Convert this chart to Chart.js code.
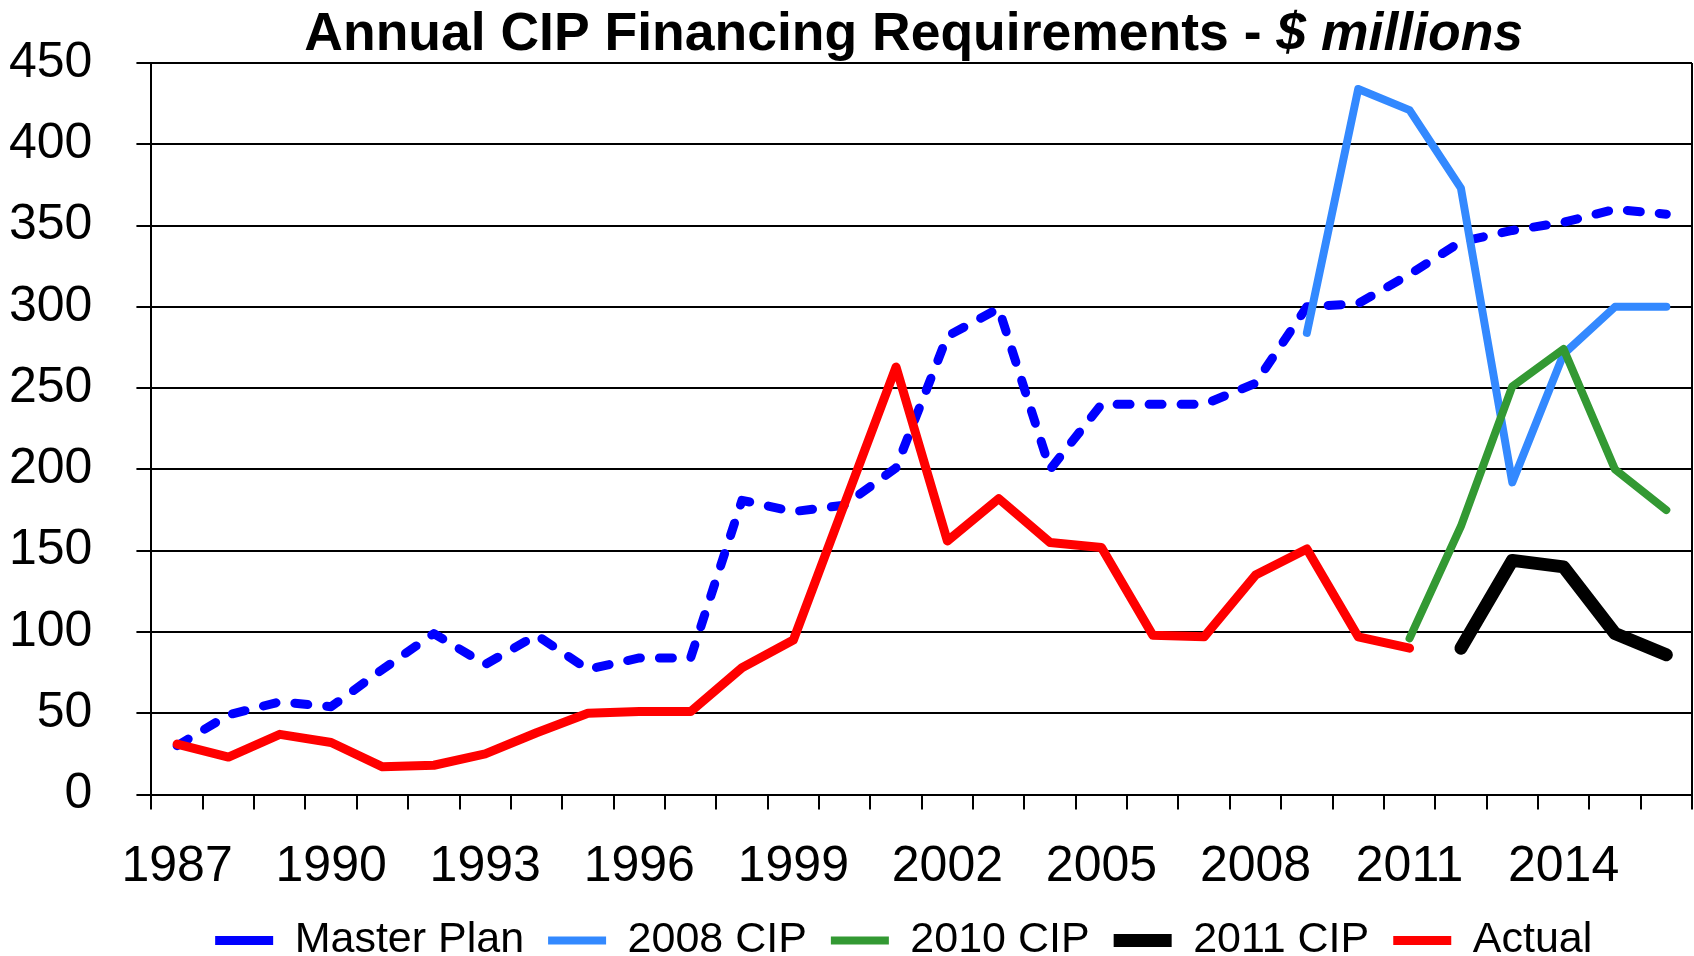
<!DOCTYPE html>
<html>
<head>
<meta charset="utf-8">
<style>
    html, body { margin: 0; padding: 0; background: #fff; overflow: hidden; }
    #wrap { width: 1694px; height: 972px; position: relative; }
</style>
</head>
<body>
<div id="wrap">
    <canvas id="cipChart"></canvas>
</div>

<script src="https://cdn.jsdelivr.net/npm/chart.js"></script>

<script>
    const years = ['1987', '1988', '1989', '1990', '1991', '1992', '1993', '1994', '1995', '1996',
        '1997', '1998', '1999', '2000', '2001', '2002', '2003', '2004', '2005', '2006',
        '2007', '2008', '2009', '2010', '2011', '2012', '2013', '2014', '2015', '2016'];

    const masterPlan = [30, 49, 57, 54, 77, 99, 80, 98, 77, 84,
        84, 181, 174, 178, 201, 282, 299, 200, 240, 240,
        240, 253, 300, 302, 320, 340, 347, 352, 360, 357];

    const cip2008 = [null, null, null, null, null, null, null, null, null, null,
        null, null, null, null, null, null, null, null, null, null,
        null, null, 284, 434, 421, 373, 192, 271, 300, 300];

    const cip2010 = [null, null, null, null, null, null, null, null, null, null,
        null, null, null, null, null, null, null, null, null, null,
        null, null, null, null, 96, 165, 251, 274, 200, 175];

    const cip2011 = [null, null, null, null, null, null, null, null, null, null,
        null, null, null, null, null, null, null, null, null, null,
        null, null, null, null, null, 90, 144, 140, 99, 86];

    const actual = [31, 23, 37, 32, 17, 18, 25, 38, 50, 51,
        51, 78, 95, 179, 263, 156, 182, 155, 152, 98,
        97, 135, 151, 97, 90, null, null, null, null, null];

    const yearLabels = ['1987', '1990', '1993', '1996', '1999', '2002', '2005', '2008', '2011', '2014'];

    const titleMain = 'Annual CIP Financing Requirements - ';
    const titleUnit = '$ millions';

    const FONT = '"Liberation Sans", Arial, sans-serif';
    const X_PAD = 28;
    const Y_PAD = 44;

    // title has a bold italic part, so it is drawn here instead of the built-in title;
    // the legend is also nudged a little left, like in the original
    const decorPlugin = {
        id: 'cipDecor',
        afterLayout(chart) {
            chart.legend.left -= 18;
            chart.legend.right -= 18;
        },
        afterDraw(chart) {
            const c = chart.ctx;
            const area = chart.chartArea;
            c.save();
            c.fillStyle = '#000';
            c.textBaseline = 'alphabetic';
            c.font = 'bold 53.5px ' + FONT;
            const w1 = c.measureText(titleMain).width;
            c.font = 'italic bold 53.5px ' + FONT;
            const w2 = c.measureText(titleUnit).width;
            let x = (area.left + area.right) / 2 - 8 - (w1 + w2) / 2;
            c.font = 'bold 53.5px ' + FONT;
            c.fillText(titleMain, x, 50);
            c.font = 'italic bold 53.5px ' + FONT;
            c.fillText(titleUnit, x + w1, 50);
            c.restore();
        }
    };

    function series(label, values, color, width, order, dash) {
        return {
            label: label,
            data: values,
            borderColor: color,
            backgroundColor: color,
            borderWidth: width,
            borderDash: dash || [],
            borderCapStyle: 'round',
            borderJoinStyle: 'round',
            pointRadius: 0,
            pointHoverRadius: 0,
            tension: 0,
            spanGaps: false,
            order: order
        };
    }

    const data = {
        labels: years,
        datasets: [
            series('Master Plan', masterPlan, '#0000ff', 9, 5, [13, 19]),
            series('2008 CIP', cip2008, '#3389ff', 8, 4),
            series('2010 CIP', cip2010, '#339933', 8, 3),
            series('2011 CIP', cip2011, '#000000', 13, 2),
            series('Actual', actual, '#ff0000', 9, 1)
        ]
    };

    const config = {
        type: 'line',
        data: data,
        plugins: [decorPlugin],
        options: {
            responsive: true,
            maintainAspectRatio: false,
            animation: false,
            layout: {
                padding: { top: 63, left: 9, right: 2, bottom: 0 }
            },
            scales: {
                x: {
                    offset: true,
                    // tick padding only between tick and label, no extra room
                    afterFit: (s) => {
                        s.paddingLeft = 0;
                        s.paddingRight = 0;
                        s.height -= X_PAD + 2.5;
                    },
                    grid: {
                        offset: true,
                        color: (c) => c.type === 'scale' ? '#000' : 'rgba(0,0,0,0)',
                        tickColor: '#000',
                        lineWidth: 2,
                        tickLength: 15
                    },
                    border: { color: '#000', width: 2 },
                    ticks: {
                        autoSkip: false,
                        maxRotation: 0,
                        minRotation: 0,
                        padding: X_PAD,
                        color: '#000',
                        font: { size: 50, family: FONT },
                        callback: function (value) {
                            const y = this.getLabelForValue(value);
                            return yearLabels.includes(y) ? y : '';
                        }
                    }
                },
                y: {
                    min: 0,
                    max: 450,
                    afterFit: (s) => {
                        s.paddingTop = 0;
                        s.paddingBottom = 0;
                        s.width -= Y_PAD;
                    },
                    grid: {
                        color: '#000',
                        lineWidth: 2,
                        tickLength: 15
                    },
                    border: { color: '#000', width: 2 },
                    ticks: {
                        stepSize: 50,
                        padding: Y_PAD,
                        color: '#000',
                        font: { size: 50, family: FONT }
                    }
                }
            },
            plugins: {
                title: { display: false },
                tooltip: { enabled: false },
                legend: {
                    position: 'bottom',
                    fullSize: false,
                    labels: {
                        usePointStyle: true,
                        pointStyle: 'line',
                        pointStyleWidth: 58,
                        padding: 24,
                        color: '#000',
                        font: { size: 43, family: FONT },
                        sort: (a, b) => a.datasetIndex - b.datasetIndex
                    }
                }
            }
        }
    };

    new Chart(document.getElementById('cipChart'), config);
</script>
</body>
</html>
